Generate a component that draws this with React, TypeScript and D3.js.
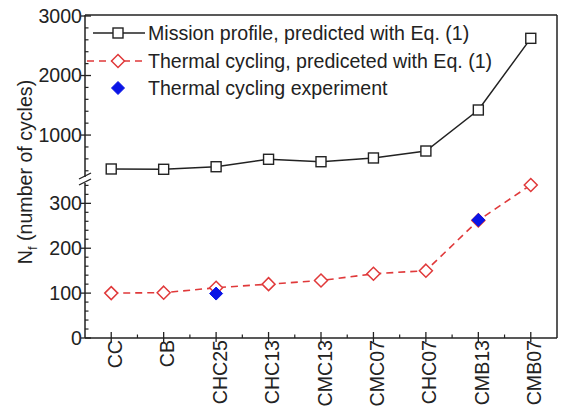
import React from "react";
import * as d3 from "d3";

const categories = ["CC", "CB", "CHC25", "CHC13", "CMC13", "CMC07", "CHC07", "CMB13", "CMB07"];
const missionProfile = [430, 425, 468, 593, 552, 615, 732, 1421, 2625];
const thermalPredicted = [100, 101, 112, 120, 128, 143, 150, 262, 341];
const experimentCats = ["CHC25", "CMB13"];
const experimentValues = [99, 263];
const upperTicks = [1000, 2000, 3000];
const lowerTicks = [0, 100, 200, 300];
const legendLabels = [
  "Mission profile, predicted with Eq. (1)",
  "Thermal cycling, prediceted with Eq. (1)",
  "Thermal cycling experiment",
];

const W = 561;
const H = 407;
const left = 85;
const right = 557;
const top = 15;
const bottom = 338;
const breakY = 180;
const FONT = "'Liberation Sans', Arial, sans-serif";
const FS = 19.6;
const RED = "#e0393a";
const BLUE = "#0a14e6";
const BLACK = "#222";

export default function App() {
  const x = d3.scalePoint<string>().domain(categories).range([left, right]).padding(0.5);
  const yUp = d3.scaleLinear().domain([245, 3000]).range([breakY, top + 1]);
  const yLo = d3.scaleLinear().domain([0, 352]).range([bottom, breakY]);

  const lineUp = d3
    .line<number>()
    .x((_, i) => x(categories[i])!)
    .y((d) => yUp(d));
  const lineLo = d3
    .line<number>()
    .x((_, i) => x(categories[i])!)
    .y((d) => yLo(d));

  const upMinor = d3.range(400, 3000, 200).filter((v) => v % 1000 !== 0);
  const loMinor = d3.range(20, 352, 20).filter((v) => v % 100 !== 0);
  const step = x.step();
  const xMinor = categories.slice(0, -1).map((c) => x(c)! + step / 2);

  const diamond = (cx: number, cy: number, r: number) =>
    `M${cx},${cy - r}L${cx + r},${cy}L${cx},${cy + r}L${cx - r},${cy}Z`;

  return (
    <svg
      width={W}
      height={H}
      style={{ position: "absolute", left: 0, top: 0, background: "#fff" }}
      fontFamily={FONT}
    >
      {/* frame */}
      <line x1={left} x2={right} y1={top} y2={top} stroke={BLACK} strokeWidth={1.5} />
      <line x1={right} x2={right} y1={top} y2={bottom} stroke={BLACK} strokeWidth={1.5} />
      <line x1={left} x2={right} y1={bottom} y2={bottom} stroke={BLACK} strokeWidth={1.5} />
      <line x1={left} x2={left} y1={top} y2={breakY - 3} stroke={BLACK} strokeWidth={1.5} />
      <line x1={left} x2={left} y1={breakY + 3} y2={bottom} stroke={BLACK} strokeWidth={1.5} />
      {/* break marks */}
      <line x1={left - 6} x2={left + 6} y1={breakY - 1} y2={breakY - 7} stroke={BLACK} strokeWidth={1.3} />
      <line x1={left - 6} x2={left + 6} y1={breakY + 5} y2={breakY - 1} stroke={BLACK} strokeWidth={1.3} />

      {/* y ticks upper */}
      {upperTicks.map((t) => (
        <g key={"u" + t}>
          <line x1={left - 4} x2={left + 6} y1={yUp(t)} y2={yUp(t)} stroke={BLACK} strokeWidth={1.3} />
          <text x={left - 3} y={yUp(t)} dy="0.35em" textAnchor="end" fontSize={FS} fill="#222">
            {t}
          </text>
        </g>
      ))}
      {upMinor.map((t) => (
        <line key={"um" + t} x1={left} x2={left + 3.5} y1={yUp(t)} y2={yUp(t)} stroke={BLACK} strokeWidth={1.2} />
      ))}
      {lowerTicks.map((t) => (
        <g key={"l" + t}>
          <line x1={left - 4} x2={left + 6} y1={yLo(t)} y2={yLo(t)} stroke={BLACK} strokeWidth={1.3} />
          <text x={left - 3} y={yLo(t)} dy="0.35em" textAnchor="end" fontSize={FS} fill="#222">
            {t}
          </text>
        </g>
      ))}
      {loMinor.map((t) => (
        <line key={"lm" + t} x1={left} x2={left + 3.5} y1={yLo(t)} y2={yLo(t)} stroke={BLACK} strokeWidth={1.2} />
      ))}

      {/* x ticks */}
      {categories.map((c) => (
        <g key={c}>
          <line x1={x(c)} x2={x(c)} y1={bottom - 6} y2={bottom + 4} stroke={BLACK} strokeWidth={1.3} />
          <text
            transform={`translate(${x(c)! + 10.5},${bottom + 2}) rotate(-90)`}
            textAnchor="end"
            fontSize={FS}
            fill="#222"
          >
            {c}
          </text>
        </g>
      ))}
      {xMinor.map((v, i) => (
        <line key={"xm" + i} x1={v} x2={v} y1={bottom - 3.5} y2={bottom} stroke={BLACK} strokeWidth={1.2} />
      ))}

      {/* y label */}
      <text transform={`translate(32,172) rotate(-90)`} textAnchor="middle" fontSize={FS} fill="#222">
        N<tspan fontSize={13} dy={5}>f</tspan>
        <tspan dy={-5}> (number of cycles)</tspan>
      </text>

      {/* series */}
      <path d={lineUp(missionProfile)!} fill="none" stroke={BLACK} strokeWidth={1.5} />
      {missionProfile.map((v, i) => (
        <rect
          key={"s" + i}
          x={x(categories[i])! - 5}
          y={yUp(v) - 5}
          width={10}
          height={10}
          fill="#fff"
          stroke={BLACK}
          strokeWidth={1.4}
        />
      ))}
      <path d={lineLo(thermalPredicted)!} fill="none" stroke={RED} strokeWidth={1.6} strokeDasharray="7,5" />
      {thermalPredicted.map((v, i) => (
        <path
          key={"d" + i}
          d={diamond(x(categories[i])!, yLo(v), 6.5)}
          fill="#fff"
          stroke={RED}
          strokeWidth={1.5}
        />
      ))}
      {experimentValues.map((v, i) => (
        <path key={"e" + i} d={diamond(x(experimentCats[i])!, yLo(v), 6.5)} fill={BLUE} stroke={BLUE} strokeWidth={1} />
      ))}

      {/* legend */}
      <g>
        <line x1={93} x2={145} y1={33} y2={33} stroke={BLACK} strokeWidth={1.5} />
        <rect x={113} y={28} width={10} height={10} fill="#fff" stroke={BLACK} strokeWidth={1.4} />
        <text x={148} y={33} dy="0.35em" fontSize={FS} fill="#222">
          {legendLabels[0]}
        </text>
        <line x1={87} x2={145} y1={61} y2={61} stroke={RED} strokeWidth={1.6} strokeDasharray="7,5" />
        <path d={diamond(118, 61, 6.5)} fill="#fff" stroke={RED} strokeWidth={1.5} />
        <text x={148} y={61} dy="0.35em" fontSize={FS} fill="#222">
          {legendLabels[1]}
        </text>
        <path d={diamond(118, 88, 6.5)} fill={BLUE} stroke={BLUE} strokeWidth={1} />
        <text x={148} y={88} dy="0.35em" fontSize={FS} fill="#222">
          {legendLabels[2]}
        </text>
      </g>
    </svg>
  );
}
